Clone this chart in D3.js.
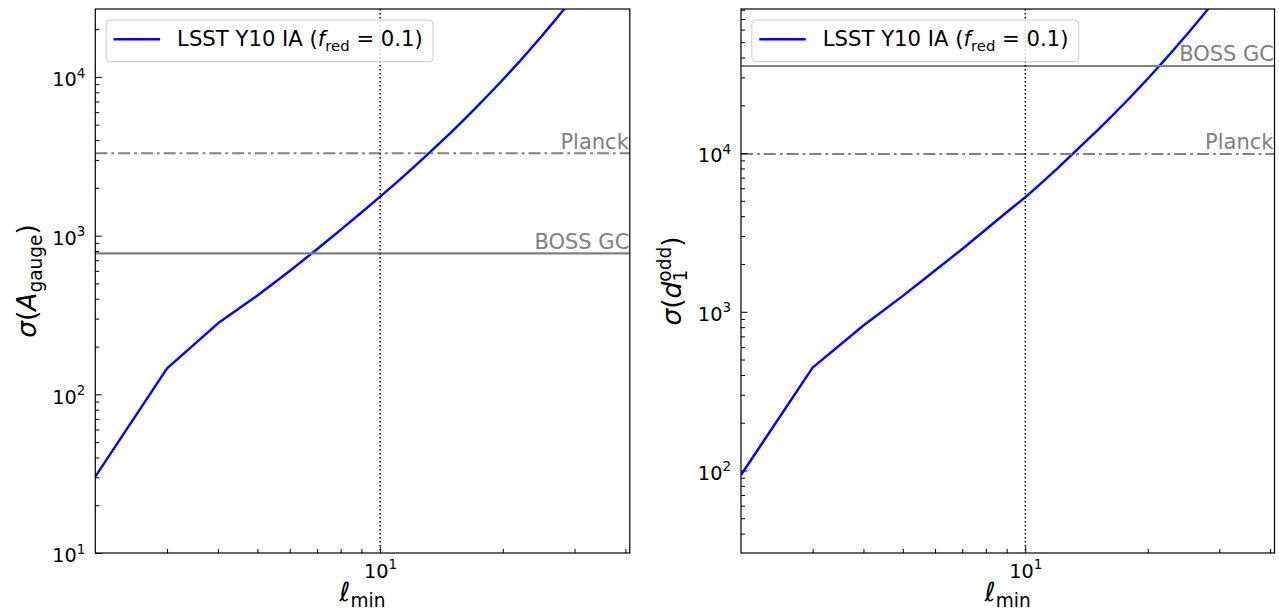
<!DOCTYPE html>
<html><head><meta charset="utf-8">
<script src="https://cdn.jsdelivr.net/npm/d3@7"></script>
<style>
body{margin:0;background:#fff}
text{font-family:"DejaVu Sans",sans-serif}
</style>
</head><body>
<svg id="chart" width="1279" height="614" xmlns="http://www.w3.org/2000/svg"></svg>
<script>
// ---- data ----
const ellMin = [2,3,4,5,6,7,8,9,10,11,12,13,14,15,16,17,18,19,20,21,22,23,24,25,26,27,28,29];
const sigmaAgauge = [30.3,145.8,280.2,419.4,599.2,821,1088,1398,1759,2176,2656,3201,3821,4529,5326,6231,7236,8367,9603,11005,12540,14250,16170,18260,20600,23130,25910,28970];
const sigmaD1odd = [93.7,444.5,819.9,1260,1820.5,2487.7,3301,4236,5267,6546,8022,9757,11665,13820,16260,19020,22080,25570,29390,33740,38500,43800,49700,56140,63310,71100,79620,89040];
const planckLevels = [3305, 9870];   // left, right
const bossLevels = [773, 35390];     // left, right
const ellRef = 10;
const xDomain = [2, 41];
const yDomains = [[10, 26800], [30.2, 80900]];
const refLabels = ["Planck", "BOSS GC"];
const legendText = ["LSST Y10 IA (", "f", "red", " = 0.1)"];

// ---- layout ----
const svg = d3.select("#chart");
const plotTop = 9, plotBottom = 553;
const panels = [
  {x0: 95.3, x1: 629.8, values: sigmaAgauge, yd: yDomains[0], planck: planckLevels[0], boss: bossLevels[0], ylabelX: 36, ylab: "A"},
  {x0: 741, x1: 1274.5, values: sigmaD1odd, yd: yDomains[1], planck: planckLevels[1], boss: bossLevels[1], ylabelX: 681, ylab: "d"}
];
const TICK_FS = 19.3, LAB_FS = 26.5, LEG_FS = 21.2, ANN_FS = 21;

function supLabel(sel, exp) {
  sel.text(null);
  sel.append("tspan").text("10");
  sel.append("tspan").attr("dy", -8.8).attr("font-size", TICK_FS * 0.7).text(exp);
}

panels.forEach((p, i) => {
  const x = d3.scaleLog().domain(xDomain).range([p.x0, p.x1]);
  const y = d3.scaleLog().domain(p.yd).range([plotBottom, plotTop]);
  const g = svg.append("g");
  const clipId = "clip" + i;
  svg.append("defs").append("clipPath").attr("id", clipId)
    .append("rect").attr("x", p.x0).attr("y", plotTop).attr("width", p.x1 - p.x0).attr("height", plotBottom - plotTop);

  const plot = g.append("g").attr("clip-path", `url(#${clipId})`);

  // curve
  const line = d3.line().x((d, k) => x(ellMin[k])).y(d => y(d));
  plot.append("path").datum(p.values).attr("d", line)
    .attr("fill", "none").attr("stroke", "#0000ff").attr("stroke-width", 2.4)
    .attr("stroke-linejoin", "round");

  // reference lines
  plot.append("line").attr("x1", p.x0).attr("x2", p.x1)
    .attr("y1", y(p.planck)).attr("y2", y(p.planck))
    .attr("stroke", "#808080").attr("stroke-width", 2.2).attr("stroke-dasharray", "12,4,2.8,4");
  plot.append("line").attr("x1", p.x0).attr("x2", p.x1)
    .attr("y1", y(p.boss)).attr("y2", y(p.boss))
    .attr("stroke", "#808080").attr("stroke-width", 2.2);
  // vertical dotted line
  plot.append("line").attr("x1", x(ellRef)).attr("x2", x(ellRef))
    .attr("y1", plotTop).attr("y2", plotBottom)
    .attr("stroke", "#000").attr("stroke-width", 1.5).attr("stroke-dasharray", "1.5,2.5");

  // annotations
  plot.append("text").attr("x", p.x1 - 1).attr("y", y(p.planck) - 4.5)
    .attr("text-anchor", "end").attr("font-size", ANN_FS).attr("fill", "#808080").text(refLabels[0]);
  plot.append("text").attr("x", p.x1 - 0.5).attr("y", y(p.boss) - 4.8)
    .attr("text-anchor", "end").attr("font-size", ANN_FS).attr("fill", "#808080").text(refLabels[1]);

  // axes ticks
  const yTicks = y.ticks();
  const isMajor = v => Math.abs(Math.log10(v) - Math.round(Math.log10(v))) < 1e-9;
  const yMaj = yTicks.filter(isMajor), yMin = yTicks.filter(v => !isMajor(v));
  const xTicks = x.ticks().filter(v => v > xDomain[0] + 1e-9);
  const xMaj = xTicks.filter(isMajor), xMin = xTicks.filter(v => !isMajor(v));

  const yMinAxis = g.append("g").attr("transform", `translate(${p.x0},0)`)
    .call(d3.axisLeft(y).tickValues(yMin).tickSize(-4).tickFormat(""));
  const yMajAxis = g.append("g").attr("transform", `translate(${p.x0},0)`)
    .call(d3.axisLeft(y).tickValues(yMaj).tickSize(-6.5).tickPadding(10).tickFormat(d => d));
  const xMinAxis = g.append("g").attr("transform", `translate(0,${plotBottom})`)
    .call(d3.axisBottom(x).tickValues(xMin).tickSize(-4).tickFormat(""));
  const xMajAxis = g.append("g").attr("transform", `translate(0,${plotBottom})`)
    .call(d3.axisBottom(x).tickValues(xMaj).tickSize(-6.5).tickPadding(10).tickFormat(d => d));
  [yMinAxis, yMajAxis, xMinAxis, xMajAxis].forEach(a => {
    a.select(".domain").remove();
    a.selectAll(".tick line").attr("stroke", "#000").attr("stroke-width", 1);
    a.attr("font-family", null).attr("font-size", null);
  });
  yMajAxis.selectAll(".tick text").attr("font-size", TICK_FS).attr("fill", "#000")
    .attr("dy", null).attr("y", 8.9).attr("x", -10)
    .each(function(d) { supLabel(d3.select(this), Math.round(Math.log10(d))); });
  xMajAxis.selectAll(".tick text").attr("font-size", TICK_FS).attr("fill", "#000")
    .attr("dy", null).attr("y", 24.5)
    .each(function(d) { supLabel(d3.select(this), Math.round(Math.log10(d))); });

  // spines
  g.append("rect").attr("x", p.x0).attr("y", plotTop).attr("width", p.x1 - p.x0).attr("height", plotBottom - plotTop)
    .attr("fill", "none").attr("stroke", "#000").attr("stroke-width", 1.2);

  // x label
  const xl = g.append("text").attr("x", (p.x0 + p.x1) / 2).attr("y", 601)
    .attr("text-anchor", "middle").attr("font-size", LAB_FS);
  xl.append("tspan").attr("font-style", "italic").text("ℓ");
  xl.append("tspan").attr("font-size", LAB_FS * 0.7).attr("dy", 5.5).text("min");

  // y label
  const yl = g.append("text")
    .attr("transform", `translate(${p.ylabelX},${(plotTop + plotBottom) / 2}) rotate(-90)`)
    .attr("text-anchor", "middle").attr("font-size", LAB_FS);
  yl.append("tspan").attr("font-style", "italic").text("σ");
  yl.append("tspan").text("(");
  if (p.ylab === "A") {
    yl.append("tspan").attr("font-style", "italic").text("A");
    yl.append("tspan").attr("font-size", LAB_FS * 0.7).attr("dy", 5.5).text("gauge");
    yl.append("tspan").attr("dy", -5.5).text(")");
  } else {
    yl.append("tspan").attr("font-style", "italic").text("d");
    yl.append("tspan").attr("font-size", LAB_FS * 0.7).attr("dy", 5.5).text("1");
    yl.append("tspan").attr("font-size", LAB_FS * 0.7).attr("dx", -11.8).attr("dy", -15.5).text("odd");
    yl.append("tspan").attr("dy", 10).text(")");
  }

  // legend
  const lg = g.append("g").attr("transform", `translate(${p.x0 + 10.8},${plotTop + 11})`);
  lg.append("rect").attr("width", 327).attr("height", 41.7).attr("rx", 4)
    .attr("fill", "#fff").attr("fill-opacity", 0.8).attr("stroke", "#cccccc").attr("stroke-width", 1);
  lg.append("line").attr("x1", 7.5).attr("x2", 54).attr("y1", 19.3).attr("y2", 19.3)
    .attr("stroke", "#0000ff").attr("stroke-width", 2.4);
  const lt = lg.append("text").attr("x", 71).attr("y", 26).attr("font-size", LEG_FS).attr("fill", "#000");
  lt.append("tspan").text(legendText[0]);
  lt.append("tspan").attr("font-style", "italic").text(legendText[1]);
  lt.append("tspan").attr("font-size", LEG_FS * 0.7).attr("dy", 4.5).text(legendText[2]);
  lt.append("tspan").attr("dy", -4.5).text(legendText[3]);
});
</script>
</body></html>
